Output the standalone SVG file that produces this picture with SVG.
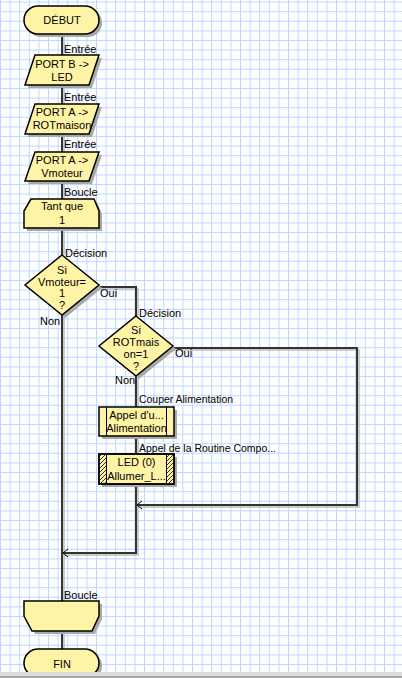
<svg xmlns="http://www.w3.org/2000/svg" width="402" height="678" viewBox="0 0 402 678">
<style>
text{font-family:"Liberation Sans",Arial,sans-serif;font-size:11px;fill:#000}
.c{text-anchor:middle}
.shape{fill:#fff4a6;stroke:#000;stroke-width:1.5}
.sh{fill:#a9a9a9;stroke:none}
.ln{fill:none;stroke:#333;stroke-width:2}
.lns{fill:none;stroke:#bcbcbc;stroke-width:1.5}
.arr{fill:none;stroke:#000;stroke-width:1}
</style>
<defs>
<pattern id="grid" patternUnits="userSpaceOnUse" x="0" y="1.6" width="9.6" height="9.6">
<rect x="0" y="0" width="9.6" height="9.6" fill="#fff"/>
<rect x="0" y="0" width="1" height="9.6" fill="#bcd8ff"/>
<rect x="0" y="0" width="9.6" height="1" fill="#bcd8ff"/>
</pattern>
<pattern id="hatch" patternUnits="userSpaceOnUse" width="4" height="4">
<rect width="4" height="4" fill="#fff4a6"/>
<path d="M0,4 L4,0 M-1,1 L1,-1 M3,5 L5,3" stroke="#000" stroke-width="0.8"/>
</pattern>
</defs>
<rect x="0" y="0" width="402" height="678" fill="url(#grid)"/>

<g id="connectors">
<path class="lns" d="M64,34V55 M64,85V104 M64,134V152 M64,181V199 M64,228V255 M64,315V601 M64,631V649"/>
<path class="lns" d="M99,289H138V316 M138,376V407 M138,436V454 M138,484V555H64"/>
<path class="lns" d="M173,350H359V507H138"/>
<path class="ln" d="M62,34V55 M62,85V104 M62,134V152 M62,181V199 M62,228V255 M62,315V601 M62,631V649"/>
<path class="ln" d="M99,287H136V316 M136,376V407 M136,436V454 M136,484V553H63"/>
<path class="ln" d="M173,348H357V505H137" stroke="#000"/>
<path class="arr" d="M68,549L63,553L68,557"/>
<path class="arr" d="M142,501L137,505L142,509"/>
</g>

<g id="labels">
<text x="64" y="53">Entrée</text>
<text x="64" y="101">Entrée</text>
<text x="64" y="148">Entrée</text>
<text x="64" y="196">Boucle</text>
<text x="65" y="257">Décision</text>
<text x="100" y="297">Oui</text>
<text x="40" y="325">Non</text>
<text x="139" y="317">Décision</text>
<text x="175" y="357">Oui</text>
<text x="115" y="384">Non</text>
<text x="139" y="403" textLength="94" lengthAdjust="spacingAndGlyphs">Couper Alimentation</text>
<text x="139" y="452" textLength="137" lengthAdjust="spacingAndGlyphs">Appel de la Routine Compo...</text>
<text x="64" y="599">Boucle</text>
</g>

<g id="debut">
<rect class="sh" x="27" y="9" width="75" height="28" rx="14"/>
<rect class="shape" x="24" y="6" width="75" height="28" rx="14"/>
<text class="c" x="62" y="24">DÉBUT</text>
</g>

<g id="portb">
<polygon class="sh" points="38,58 102,58 92,88 28,88"/>
<polygon class="shape" points="35,55 99,55 89,85 25,85"/>
<text class="c" x="62" y="67.5">PORT B -&gt;</text>
<text class="c" x="62" y="80.5">LED</text>
</g>

<g id="porta1">
<polygon class="sh" points="38,107 102,107 92,137 28,137"/>
<polygon class="shape" points="35,104 99,104 89,134 25,134"/>
<text class="c" x="62" y="116">PORT A -&gt;</text>
<text class="c" x="62" y="129">ROTmaison</text>
</g>

<g id="porta2">
<polygon class="sh" points="38,155 102,155 92,184 28,184"/>
<polygon class="shape" points="35,152 99,152 89,181 25,181"/>
<text class="c" x="62" y="164">PORT A -&gt;</text>
<text class="c" x="62" y="177">Vmoteur</text>
</g>

<g id="boucle1">
<polygon class="sh" points="34,202 97,202 102,214 102,231 27,231 27,214"/>
<polygon class="shape" points="31,199 94,199 99,211 99,228 24,228 24,211"/>
<text class="c" x="62" y="210">Tant que</text>
<text class="c" x="62" y="224">1</text>
</g>

<g id="decision1">
<polygon class="sh" points="65,258 102,288 65,318 28,288"/>
<polygon class="shape" points="62,255 99,285 62,315 25,285"/>
<text class="c" x="62" y="274">Si</text>
<text class="c" x="62" y="285.5">Vmoteur=</text>
<text class="c" x="62" y="297">1</text>
<text class="c" x="62" y="308.5">?</text>
</g>

<g id="decision2">
<polygon class="sh" points="139,319 176,349 139,379 102,349"/>
<polygon class="shape" points="136,316 173,346 136,376 99,346"/>
<text class="c" x="136" y="334">Si</text>
<text class="c" x="136" y="346">ROTmais</text>
<text class="c" x="136" y="358">on=1</text>
<text class="c" x="136" y="370">?</text>
</g>

<g id="appel">
<rect class="sh" x="102" y="410" width="75" height="29"/>
<rect class="shape" x="99" y="407" width="75" height="29"/>
<path d="M106.5,407V436 M166.5,407V436" stroke="#000" stroke-width="1"/>
<text class="c" x="136.5" y="418.5">Appel d'u...</text>
<text class="c" x="136.5" y="432">Alimentation</text>
</g>

<g id="macro">
<rect class="sh" x="102" y="457" width="75" height="30"/>
<rect class="shape" x="99" y="454" width="75" height="30"/>
<rect x="99.75" y="454.75" width="6.75" height="28.5" fill="url(#hatch)"/>
<rect x="166.5" y="454.75" width="6.75" height="28.5" fill="url(#hatch)"/>
<path d="M106.5,454V484 M166.5,454V484" stroke="#000" stroke-width="1"/>
<rect x="99" y="454" width="75" height="30" fill="none" stroke="#000" stroke-width="1.5"/>
<text class="c" x="136.5" y="466">LED (0)</text>
<text class="c" x="136.5" y="480">Allumer_L...</text>
</g>

<g id="boucle2">
<polygon class="sh" points="27,604 102,604 102,619 95,634 35,634 27,619"/>
<polygon class="shape" points="24,601 99,601 99,616 92,631 32,631 24,616"/>
</g>

<g id="fin">
<rect class="sh" x="27" y="652" width="75" height="28" rx="14"/>
<rect class="shape" x="24" y="649" width="75" height="28" rx="14"/>
<text class="c" x="62" y="668">FIN</text>
</g>

<rect x="0" y="672" width="402" height="4" fill="#dcdcdc"/>
<rect x="0" y="676" width="402" height="2" fill="#a6a6a6"/>
</svg>
